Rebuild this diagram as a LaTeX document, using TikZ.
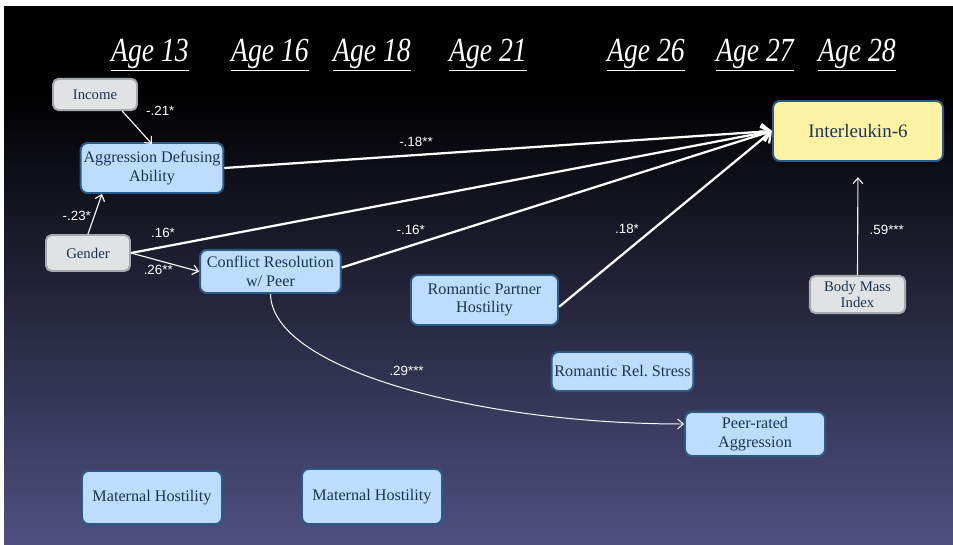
\documentclass[tikz,border=0pt]{standalone}
\usepackage{fontspec}
\setmainfont{Liberation Serif}
\setsansfont{Liberation Sans}
\newfontfamily\agefont[FakeStretch=0.82]{Liberation Serif Italic}
\usetikzlibrary{arrows.meta,positioning}

\definecolor{boxblue}{HTML}{BEDCFD}
\definecolor{boxline}{HTML}{2A5A8A}
\definecolor{boxtext}{HTML}{1C3454}
\definecolor{boxgray}{HTML}{E1E2E4}
\definecolor{grayline}{HTML}{A5AAB2}
\definecolor{ilfill}{HTML}{FEF3A4}
\definecolor{bgbot}{HTML}{4F5080}

\tikzset{
  bluebox/.style={draw=boxline, fill=boxblue, line width=1.4pt, rounded corners=5pt,
    text=boxtext, align=center, inner sep=2pt, font=\fontsize{11.5}{13}\selectfont},
  graybox/.style={draw=grayline, fill=boxgray, line width=1.4pt, rounded corners=4pt,
    text=boxtext, align=center, inner sep=2pt, font=\fontsize{10.5}{11.5}\selectfont},
  agelabel/.style={text=white, font=\agefont\fontsize{24}{25}\selectfont},
  coef/.style={text=white, inner sep=1pt, font=\sffamily\fontsize{9.5}{11}\selectfont},
  biglink/.style={draw=white, line width=1.6pt, -{Straight Barb[length=6pt,width=11pt]}},
  thinlink/.style={draw=white, line width=0.8pt, -{Straight Barb[length=4pt,width=7pt]}}
}

\begin{document}
\begin{tikzpicture}[x=0.025cm, y=-0.025cm]
\useasboundingbox (0,0) rectangle (953,545);

% fondo
\fill[white] (0,0) rectangle (953,545);
\fill[black] (4,6) rectangle (953,90);
\shade[top color=black, bottom color=bgbot] (4,89.5) rectangle (953,545);

% edades
\node[agelabel] (a13) at (150,55) {\underline{Age 13}};
\node[agelabel] (a16) at (270,55) {\underline{Age 16}};
\node[agelabel] (a18) at (372,55) {\underline{Age 18}};
\node[agelabel] (a21) at (488,55) {\underline{Age 21}};
\node[agelabel] (a26) at (646,55) {\underline{Age 26}};
\node[agelabel] (a27) at (755,55) {\underline{Age 27}};
\node[agelabel] (a28) at (857,55) {\underline{Age 28}};

% variables
\node[graybox, minimum width=2.1cm, minimum height=0.78cm] (income) at (95,94.5) {Income};
\node[bluebox, minimum width=3.5cm, minimum height=1.25cm] (ada) at (152,168) {Aggression Defusing\\Ability};
\node[graybox, minimum width=2.1cm, minimum height=0.9cm] (gender) at (88,253) {Gender};
\node[bluebox, minimum width=3.52cm, minimum height=1.08cm] (conflict) at (270.5,271.5) {Conflict Resolution\\w/ Peer};
\node[bluebox, minimum width=3.68cm, minimum height=1.25cm] (rph) at (484.5,300) {Romantic Partner\\Hostility};
\node[bluebox, fill=ilfill, minimum width=4.25cm, minimum height=1.5cm,
  font=\fontsize{13.5}{15}\selectfont] (il6) at (858,131) {Interleukin-6};
\node[graybox, minimum width=2.38cm, minimum height=0.93cm] (bmi) at (857.5,294.5) {Body Mass\\Index};
\node[bluebox, minimum width=3.52cm, minimum height=0.98cm] (rrs) at (622.5,371.5) {Romantic Rel.\ Stress};
\node[bluebox, minimum width=3.5cm, minimum height=1.1cm] (peer) at (755,434) {Peer-rated\\Aggression};
\node[bluebox, minimum width=3.5cm, minimum height=1.33cm] (mat1) at (152,497.5) {Maternal Hostility};
\node[bluebox, minimum width=3.5cm, minimum height=1.38cm] (mat2) at (372,496.5) {Maternal Hostility};

% caminos hacia IL-6
\draw[biglink] (ada.east) -- node[coef, pos=0.35, above=4pt] {-.18**} (il6.west);
\draw[biglink] (gender.east) -- node[coef, pos=0.05, above=5pt] {.16*} (il6.west);
\draw[biglink] ([yshift=0.1cm]conflict.east) -- node[coef, pos=0.16, above=6pt] {-.16*} (il6.west);
\draw[biglink] ([yshift=-0.17cm]rph.east) -- node[coef, pos=0.4, above left=0pt and 2pt] {.18*} (il6.west);

% caminos finos
\draw[thinlink] ([xshift=0.68cm]income.south) -- node[coef, pos=0, right=0.55cm] {-.21*} ([yshift=-0.05cm]ada.north);
\draw[thinlink] (gender.north) -- node[coef, pos=0.45, left=1pt] {-.23*} ([xshift=-1.25cm]ada.south);
\draw[thinlink] (gender.east) -- node[coef, pos=0.4, below=2pt] {.26**} (conflict.west);
\draw[thinlink, draw=white!85!gray, shorten >=0.38cm] (bmi.north) -- node[coef, pos=0.4, right=0.25cm] {.59***} (il6.south);
\draw[thinlink, line width=0.7pt] (conflict.south) .. controls (272,370) and (480,424) .. node[coef, pos=0.47, above right=4pt and 0pt] {.29***} ([yshift=0.25cm]peer.west);

\end{tikzpicture}
\end{document}
